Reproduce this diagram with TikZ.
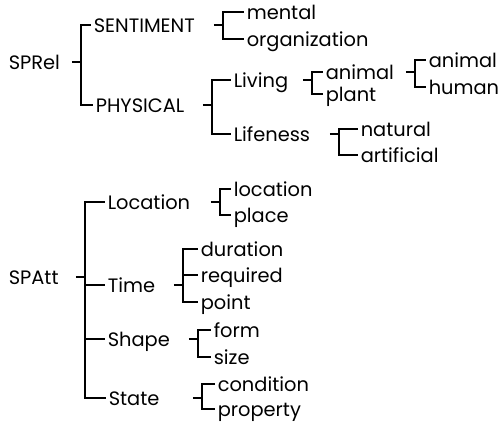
\documentclass[tikz,border=0pt]{standalone}
\usepackage{fontspec}
\setmainfont{Poppins}
\usetikzlibrary{calc}

\begin{document}
\begin{tikzpicture}[x=.5pt,y=-.5pt,line width=.8pt,
    every node/.style={anchor=base west,inner xsep=1pt,inner ysep=0pt,
      text height=8pt,text depth=0pt,font=\fontsize{9.7}{12}\selectfont}]
  \useasboundingbox (0,0) rectangle (500,426);
  % relations
  \node (sprel) at (6,70) {SPRel};
  \node (sentiment) at (91,33) {SENTIMENT};
  \node (physical) at (93,113) {PHYSICAL};
  \node (mental) at (244,20) {mental};
  \node (organization) at (244,47) {organization};
  \node (living) at (231,88) {Living};
  \node (lifeness) at (231,142) {Lifeness};
  \node (animal) at (323,80) {animal};
  \node (plant) at (323,102) {plant};
  \node (animalb) at (426,68) {animal};
  \node (human) at (426,95) {human};
  \node (natural) at (358,137) {natural};
  \node (artificial) at (358,163) {artificial};
  % attributes
  \node (spatt) at (6,285) {SPAtt};
  \node (location) at (105,210) {Location};
  \node (time) at (105,293) {Time};
  \node (shape) at (105,347) {Shape};
  \node (state) at (106,406) {State};
  \node (locationb) at (231,197) {location};
  \node (place) at (231,223) {place};
  \node (duration) at (198,257) {duration};
  \node (required) at (198,283) {required};
  \node (point) at (198,310) {point};
  \node (form) at (211,338) {form};
  \node (size) at (211,365) {size};
  \node (condition) at (215,392) {condition};
  \node (property) at (215,417) {property};
  % brackets: parent / x of the bar / children
  \foreach \p/\x/\cl in {sprel/81/{sentiment,physical},
      sentiment/223/{mental,organization}, physical/212/{living,lifeness},
      living/312/{animal,plant}, animal/415/{animalb,human},
      lifeness/339/{natural,artificial},
      spatt/85/{location,time,shape,state},
      location/220/{locationb,place}, time/183/{duration,required,point},
      shape/198/{form,size}, state/202/{condition,property}}{
    \coordinate (bar) at (\x,0);
    \draw ($(\p.east -| bar)+(-9,0)$) -- (\p.east -| bar);
    \foreach \c in \cl \draw (\p.east -| bar) |- (\c.west);
  }
\end{tikzpicture}
\end{document}
